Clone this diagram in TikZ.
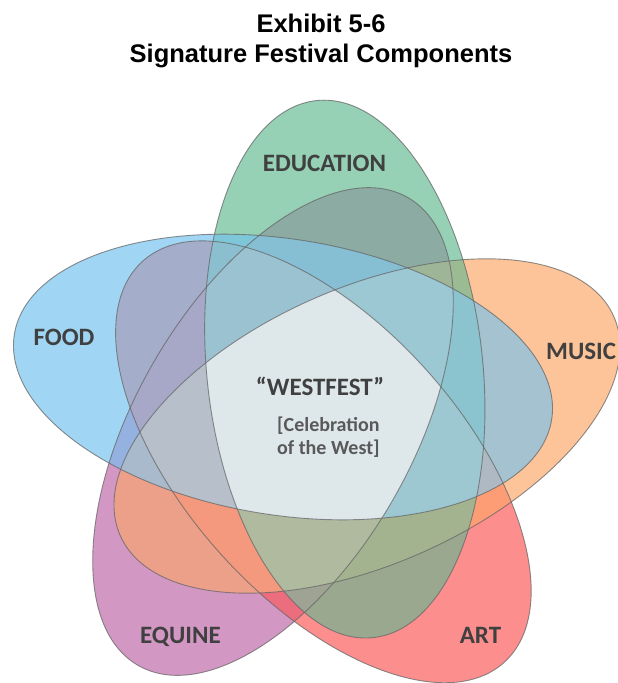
\documentclass[tikz,border=0pt]{standalone}
\usepackage{fontspec}
\setmainfont{Liberation Sans}
\newfontfamily\lblfont{Carlito}
\definecolor{cEdu}{RGB}{80,177,133}
\definecolor{cFood}{RGB}{97,188,238}
\definecolor{cMus}{RGB}{252,158,88}
\definecolor{cEqu}{RGB}{183,82,158}
\definecolor{cArt}{RGB}{250,67,67}
\definecolor{cMid}{RGB}{222,231,234}
\definecolor{cTxt}{RGB}{64,64,64}
\definecolor{cSub}{RGB}{89,89,89}
\newcommand\petshape{(0,0) ellipse [x radius=270pt, y radius=138pt]}
\begin{document}
\begin{tikzpicture}[x=1pt,y=-1pt,
  edu/.style={shift={(344.8,369.1)},rotate=96},
  food/.style={shift={(283,377)},rotate=171,xscale=1.0074},
  equ/.style={shift={(273,431.5)},rotate=240},
  art/.style={shift={(323.4,461.8)},rotate=312},
  mus/.style={shift={(367,426)},rotate=24},
  petal/.style={fill opacity=0.6},
  rim/.style={draw=black!60, line width=0.9pt, draw opacity=0.75},
  lab/.style={font=\lblfont\bfseries\fontsize{25}{28}\selectfont, text=cTxt, inner sep=0pt, anchor=base},
  sub/.style={font=\lblfont\bfseries\fontsize{20}{23}\selectfont, text=cSub, inner sep=0pt, anchor=base west},
  ttl/.style={font=\bfseries\fontsize{25.5}{30}\selectfont, text=black, inner sep=0pt, anchor=base},
]
\useasboundingbox (0,0) rectangle (618,683);
\fill[white] (0,0) rectangle (618,683);
% petals
\fill[equ, cEqu, petal] \petshape;
\fill[art, cArt, petal] \petshape;
\fill[mus, cMus, petal] \petshape;
\fill[edu, cEdu, petal] \petshape;
\fill[food, cFood, petal] \petshape;
% soften overlaps
\foreach \pa/\pb in {edu/food, edu/equ, edu/art, edu/mus, food/equ, food/art, food/mus, equ/art, equ/mus, art/mus}{
  \begin{scope}
    \clip[\pa] \petshape;
    \fill[\pb, white, fill opacity=0.06] \petshape;
  \end{scope}
}
% centre
\begin{scope}
  \clip[edu] \petshape;
  \clip[food] \petshape;
  \clip[equ] \petshape;
  \clip[art] \petshape;
  \clip[mus] \petshape;
  \fill[cMid] (0,0) rectangle (618,683);
\end{scope}
% outlines
\draw[equ, rim] \petshape;
\draw[art, rim] \petshape;
\draw[mus, rim] \petshape;
\draw[edu, rim] \petshape;
\draw[food, rim] \petshape;
% titles
\node[ttl] (t1) at (321,32) {Exhibit 5-6};
\node[ttl] (t2) at (321,62) {Signature Festival Components};
% labels
\node[lab] (ledu) at (324.5,171) {EDUCATION};
\node[lab] (lfood) at (64,345) {FOOD};
\node[lab, anchor=base west] (lmus) at (546,359) {MUSIC};
\node[lab] (lequ) at (180.5,643) {EQUINE};
\node[lab] (lart) at (480.5,643) {ART};
\node[lab] (lwest) at (320,395) {“WESTFEST”};
\node[sub] (lcel1) at (277,431) {[Celebration};
\node[sub] (lcel2) at (277,454) {of the West]};
\end{tikzpicture}
\end{document}
